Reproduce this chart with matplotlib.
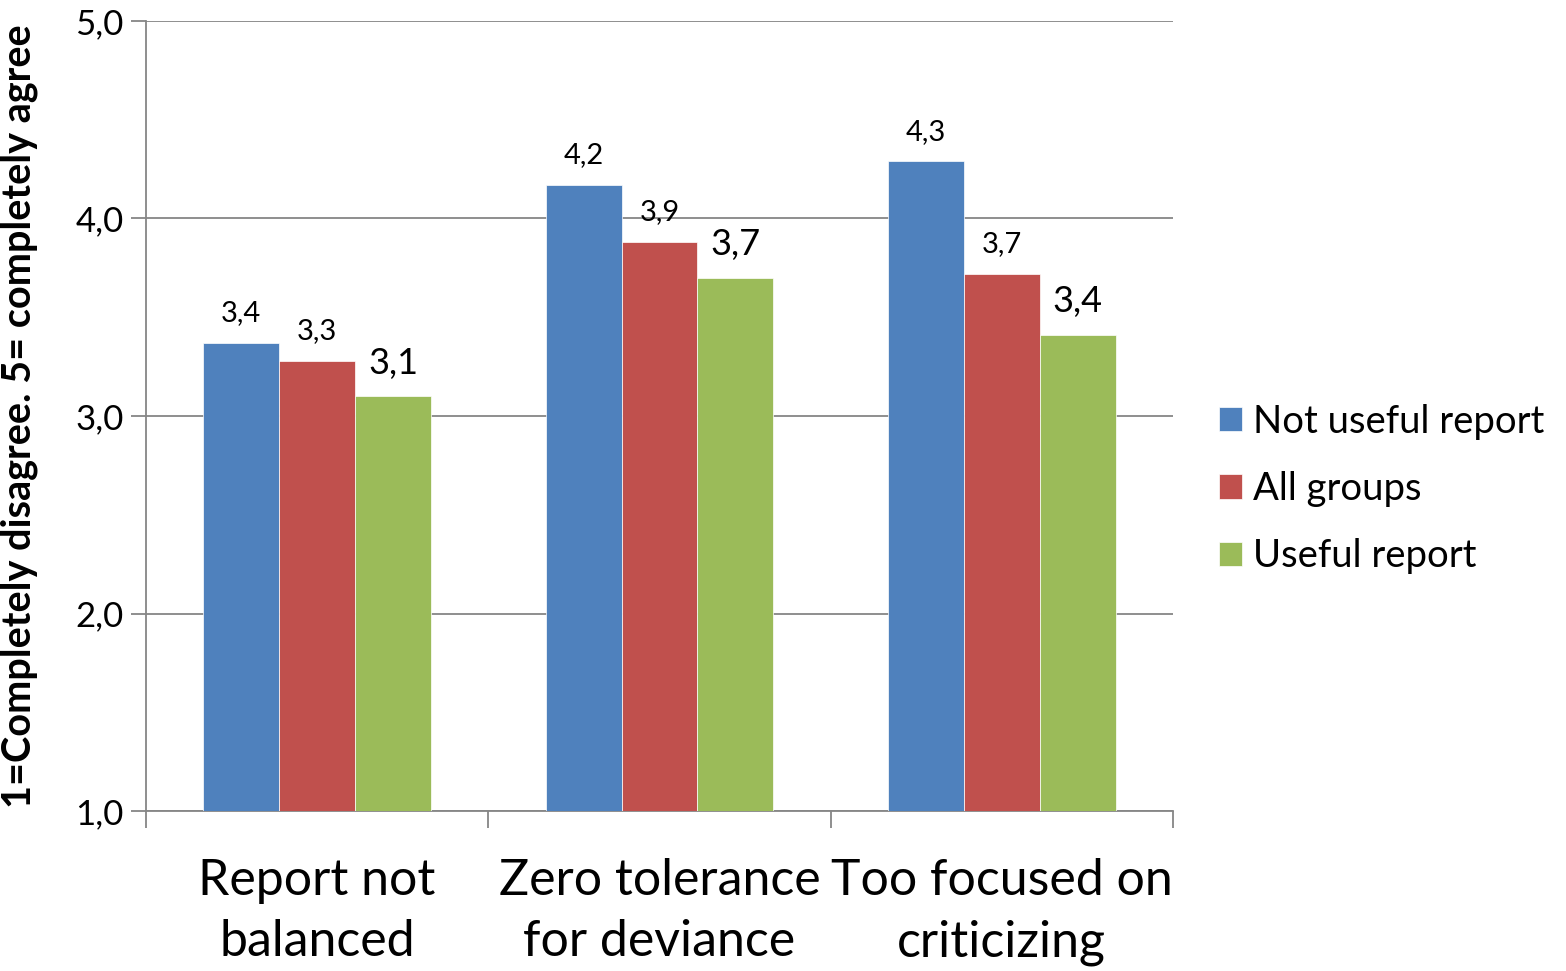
import numpy as np
import matplotlib.pyplot as plt

plt.rcParams['font.family'] = ['Lato', 'DejaVu Sans']

categories = ["Report not\nbalanced", "Zero tolerance\nfor deviance", "Too focused on\ncriticizing"]
series = ["Not useful report", "All groups", "Useful report"]
not_useful = [3.37, 4.17, 4.29]
all_groups = [3.28, 3.88, 3.72]
useful = [3.10, 3.70, 3.41]
values = [not_useful, all_groups, useful]
colors = ["#4F81BD", "#C0504D", "#9BBB59"]
label_sizes = [21, 21, 26]

fig = plt.figure(figsize=(15.66, 9.71), dpi=100)
ax = fig.add_axes([146/1566, 1 - 811/971, (1173-146)/1566, (811-21)/971])

x = np.arange(len(categories))
w = 0.222
for i, (vals, c) in enumerate(zip(values, colors)):
    pos = x + (i - 1) * w
    ax.bar(pos, np.array(vals) - 1, w, bottom=1, color=c, edgecolor='white',
           linewidth=0.5, label=series[i], zorder=3)
    for px, v in zip(pos, vals):
        ax.annotate(f"{v:.1f}".replace('.', ','), (px, v), xytext=(0, 12),
                    textcoords='offset points', ha='center', va='bottom',
                    fontsize=label_sizes[i])

ax.set_xlim(-0.5, 2.5)
ax.set_ylim(1, 5)
yt = [1, 2, 3, 4, 5]
ax.set_yticks(yt)
ax.set_yticklabels([f"{t:.1f}".replace('.', ',') for t in yt], fontsize=25)
ax.yaxis.grid(True, color='#868686', linewidth=1.3, zorder=0)
ax.set_xticks([-0.5, 0.5, 1.5, 2.5])
ax.set_xticklabels([])
ax.set_xticks(x, minor=True)
ax.set_xticklabels(categories, minor=True, fontsize=36, linespacing=1.4)
ax.tick_params(axis='x', which='minor', length=0, pad=34)
ax.tick_params(axis='x', which='major', length=12, width=1.3, color='#868686')
ax.tick_params(axis='y', length=11, width=1.3, color='#868686', pad=5)
for s in ['top', 'right']:
    ax.spines[s].set_visible(False)
for s in ['left', 'bottom']:
    ax.spines[s].set_color('#868686')
    ax.spines[s].set_linewidth(1.3)

ax.set_ylabel("1=Completely disagree. 5= completely agree", fontsize=28.5,
              fontweight='bold')
ax.yaxis.set_label_coords(-0.105, 0.5)

fig.legend(loc='center left', bbox_to_anchor=(1200/1566, 1 - 489/971),
           frameon=False, fontsize=27.5, handlelength=0.6, handleheight=0.6,
           handletextpad=0.3, labelspacing=0.82, borderpad=0)

fig.savefig("out.png", dpi=100)
